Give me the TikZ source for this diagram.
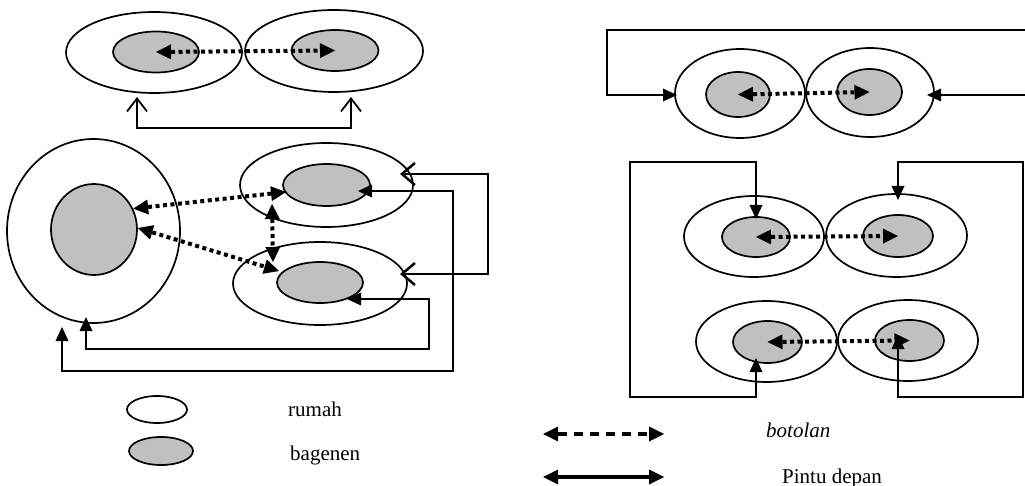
\documentclass[tikz,border=0pt]{standalone}
\usepackage{fontspec}
\setmainfont{Liberation Serif}
\usetikzlibrary{shapes.geometric,arrows.meta}
\definecolor{bagfill}{RGB}{192,192,192}
\tikzset{
  rumahshape/.style={ellipse,draw,line width=1.7pt,inner sep=0pt,fill=white},
  bagshape/.style={ellipse,draw,line width=1.7pt,inner sep=0pt,fill=bagfill},
  dotarr/.style={line width=4pt,dash pattern=on 4pt off 3.5pt,
    {Triangle[length=15pt,width=15pt,line width=0pt]}-{Triangle[length=15pt,width=15pt,line width=0pt]}},
  conn/.style={line width=2.5pt,
    {Triangle[length=14pt,width=13pt,line width=0pt]}-{Triangle[length=14pt,width=13pt,line width=0pt]}},
  openconn/.style={line width=1.8pt,
    {Straight Barb[length=13pt,width=20pt,line width=1.8pt]}-{Straight Barb[length=13pt,width=20pt,line width=1.8pt]}},
  openconnb/.style={line width=2.5pt,
    {Straight Barb[length=13pt,width=22pt,line width=2.5pt]}-{Straight Barb[length=13pt,width=22pt,line width=2.5pt]}},
  legdash/.style={line width=3.5pt,dash pattern=on 9pt off 7pt,
    {Triangle[length=15pt,width=15pt,line width=0pt]}-{Triangle[length=15pt,width=15pt,line width=0pt]}},
  legsolid/.style={line width=4pt,
    {Triangle[length=15pt,width=15pt,line width=0pt]}-{Triangle[length=15pt,width=15pt,line width=0pt]}},
  lbl/.style={anchor=base west,inner sep=0pt,font=\fontsize{21}{24}\selectfont},
}
\begin{document}
\begin{tikzpicture}[x=1pt,y=-1pt]
\useasboundingbox (0,0) rectangle (1025,486);
\clip (0,0) rectangle (1025,486);

% ---------- top-left pair ----------
\node[rumahshape,minimum width=176pt,minimum height=81pt] (O1) at (154,52.5) {};
\node[rumahshape,minimum width=178pt,minimum height=82pt] (O2) at (334,51) {};
\node[bagshape,minimum width=86pt,minimum height=41pt] (I1) at (156,52) {};
\node[bagshape,minimum width=87pt,minimum height=41pt] (I2) at (335,50.5) {};
\draw[dotarr] (I1.center) -- (I2.center);
\coordinate (ta) at (137,97);
\coordinate (tb) at (351,97);
\draw[openconn] (ta) -- ++(0,31) -| (tb);

% ---------- middle-left group ----------
\node[rumahshape,minimum width=173pt,minimum height=184pt] (BO) at (93.5,231) {};
\node[bagshape,minimum width=86pt,minimum height=91pt] (BI) at (94,229.5) {};
\node[rumahshape,minimum width=173pt,minimum height=84pt] (UO) at (326.5,185) {};
\node[bagshape,minimum width=87pt,minimum height=42pt] (UI) at (326.5,185) {};
\node[rumahshape,minimum width=174pt,minimum height=83pt] (LO) at (320,283.5) {};
\node[bagshape,minimum width=86pt,minimum height=41pt] (LI) at (320,282.5) {};

\coordinate (v1) at (272,204);
\coordinate (v2) at (273,262);
\coordinate (d1) at (286,192);
\coordinate (d2) at (279,271);
\draw[dotarr] (BI.28) -- (d1);
\draw[dotarr] (BI.2) -- (d2);
\draw[dotarr] (v1) -- (v2);

\coordinate (p1a) at (400,174);
\coordinate (p1b) at (400,274);
\draw[openconnb] (p1a) -- ++(88,0) |- (p1b);

\coordinate (p2a) at (358,191);
\coordinate (p2b) at (62,327);
\draw[conn] (p2a) -- ++(95,0) -- ++(0,180) -| (p2b);

\coordinate (p3a) at (347,299);
\coordinate (p3b) at (86,317);
\draw[conn] (p3a) -- ++(82,0) -- ++(0,50) -| (p3b);

% ---------- right: top pair ----------
\node[rumahshape,minimum width=130pt,minimum height=89pt] (RO1) at (740,93.5) {};
\node[rumahshape,minimum width=128pt,minimum height=89pt] (RO2) at (870,92.5) {};
\node[bagshape,minimum width=64pt,minimum height=45pt] (RI1) at (738,94.5) {};
\node[bagshape,minimum width=65pt,minimum height=46pt] (RI2) at (869.5,92) {};
\draw[dotarr] (RI1.center) -- (RI2.center);
\coordinate (p4a) at (677,95);
\coordinate (p4b) at (927,95);
\draw[conn] (p4a) -- ++(-70,0) |- (1032,30) |- (p4b);

% ---------- right: middle pair ----------
\node[rumahshape,minimum width=140pt,minimum height=81pt] (MO1) at (754,236.5) {};
\node[rumahshape,minimum width=141pt,minimum height=83pt] (MO2) at (896.5,235.5) {};
\node[bagshape,minimum width=68pt,minimum height=40pt] (MI1) at (756,237) {};
\node[bagshape,minimum width=70pt,minimum height=42pt] (MI2) at (898,236) {};
\draw[dotarr] (MI1.center) -- (MI2.center);

% ---------- right: bottom pair ----------
\node[rumahshape,minimum width=141pt,minimum height=81pt] (BO1) at (766.5,341.5) {};
\node[rumahshape,minimum width=140pt,minimum height=81pt] (BO2) at (908,340.5) {};
\node[bagshape,minimum width=69pt,minimum height=42pt] (BI1) at (767.5,342) {};
\node[bagshape,minimum width=69pt,minimum height=41pt] (BI2) at (909.5,340.5) {};
\draw[dotarr] (BI1.center) -- (BI2.center);

\coordinate (p5a) at (756,219);
\coordinate (p5b) at (756,358);
\draw[conn] (p5a) -- ++(0,-57) -| (630,397) -| (p5b);

\coordinate (p6a) at (898,200);
\coordinate (p6b) at (898,335);
\draw[conn] (p6a) -- ++(0,-38) -| (1023,397) -| (p6b);

% ---------- legend ----------
\node[rumahshape,minimum width=60pt,minimum height=27pt] (LR) at (157,409.5) {};
\node[bagshape,minimum width=64pt,minimum height=28pt] (LB) at (161,451) {};
\node[lbl] (tr) at (288,416) {rumah};
\node[lbl] (tb2) at (290,460) {bagenen};

\coordinate (la1) at (543,434);
\coordinate (la2) at (664,434);
\draw[legdash] (la1) -- (la2);
\coordinate (lb1) at (543,477);
\coordinate (lb2) at (664,477);
\draw[legsolid] (lb1) -- (lb2);
\node[lbl] (tbot) at (766,437) {\itshape botolan};
\node[lbl] (tpin) at (782,483) {Pintu depan};
\end{tikzpicture}
\end{document}
